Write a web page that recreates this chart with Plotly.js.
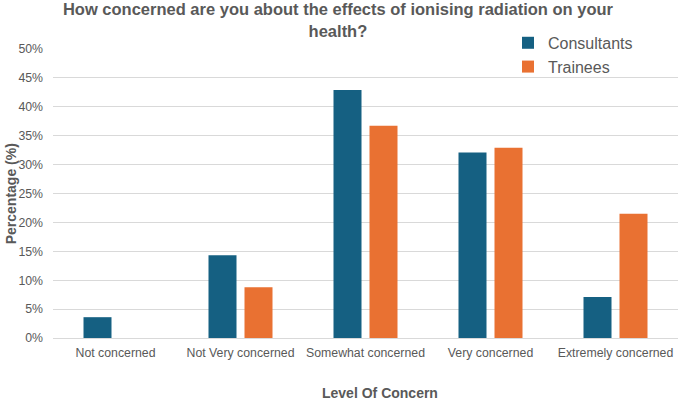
<!DOCTYPE html>
<html>
<head>
<meta charset="utf-8">
<script src="https://cdn.plot.ly/plotly-3.0.1.min.js"></script>
<style>html,body{margin:0;padding:0;background:#fff;}#chart{width:680px;height:402px;}</style>
</head>
<body>
<div id="chart"></div>
<script>
const categories = ["Not concerned", "Not Very concerned", "Somewhat concerned", "Very concerned", "Extremely concerned"];
const consultants = [3.6, 14.3, 42.9, 32.1, 7.1];
const trainees = [0, 8.8, 36.7, 32.9, 21.5];
const yTickVals = [0, 5, 10, 15, 20, 25, 30, 35, 40, 45, 50];
const yTickText = ["0%", "5%", "10%", "15%", "20%", "25%", "30%", "35%", "40%", "45%", "50%"];

const FONT = "Liberation Sans, Arial, sans-serif";
const GRAY = "#595959";

const data = [
  {type: "bar", name: "Consultants", x: categories, y: consultants, marker: {color: "#156082"}},
  {type: "bar", name: "Trainees", x: categories, y: trainees, marker: {color: "#E97132"}}
];

const layout = {
  width: 680, height: 402,
  margin: {l: 53, r: 2, t: 49, b: 64},
  paper_bgcolor: "#fff", plot_bgcolor: "#fff",
  font: {family: FONT, color: GRAY, size: 12},
  barmode: "group",
  bargap: 0.424,
  bargroupgap: 0.222,
  title: {
    text: "<b>How concerned are you about the effects of ionising radiation on your<br>health?</b>",
    x: 0.497, xanchor: "center", y: 0.962, yanchor: "top",
    font: {family: FONT, size: 16.5, color: GRAY}
  },
  xaxis: {
    type: "category",
    tickfont: {family: FONT, size: 12.3, color: GRAY},
    showgrid: false, zeroline: false, showline: false,
    ticks: "", automargin: false, ticklabelstandoff: 6
  },
  yaxis: {
    range: [0, 50],
    tickvals: yTickVals, ticktext: yTickText,
    tickfont: {family: FONT, size: 12.3, color: GRAY},
    showgrid: true, gridcolor: "#d9d9d9", gridwidth: 1,
    zeroline: true, zerolinecolor: "#d9d9d9", zerolinewidth: 1,
    showline: false, ticks: "", ticklen: 0, automargin: false, ticklabelstandoff: 9
  },
  legend: {
    x: 0.728, xanchor: "left", y: 1.08, yanchor: "top",
    font: {family: FONT, size: 16, color: GRAY},
    bgcolor: "rgba(0,0,0,0)", tracegroupgap: 0
  },
  annotations: [
    {text: "<b>Level Of Concern</b>", xref: "paper", yref: "paper", x: 0.523, y: -0.19,
     xanchor: "center", yanchor: "middle", showarrow: false,
     font: {family: FONT, size: 14, color: GRAY}},
    {text: "<b>Percentage (%)</b>", xref: "paper", yref: "paper", x: -0.0675, y: 0.5,
     xanchor: "center", yanchor: "middle", showarrow: false, textangle: -90,
     font: {family: FONT, size: 14, color: GRAY}}
  ]
};

Plotly.newPlot("chart", data, layout, {staticPlot: true, displayModeBar: false});
</script>
</body>
</html>
